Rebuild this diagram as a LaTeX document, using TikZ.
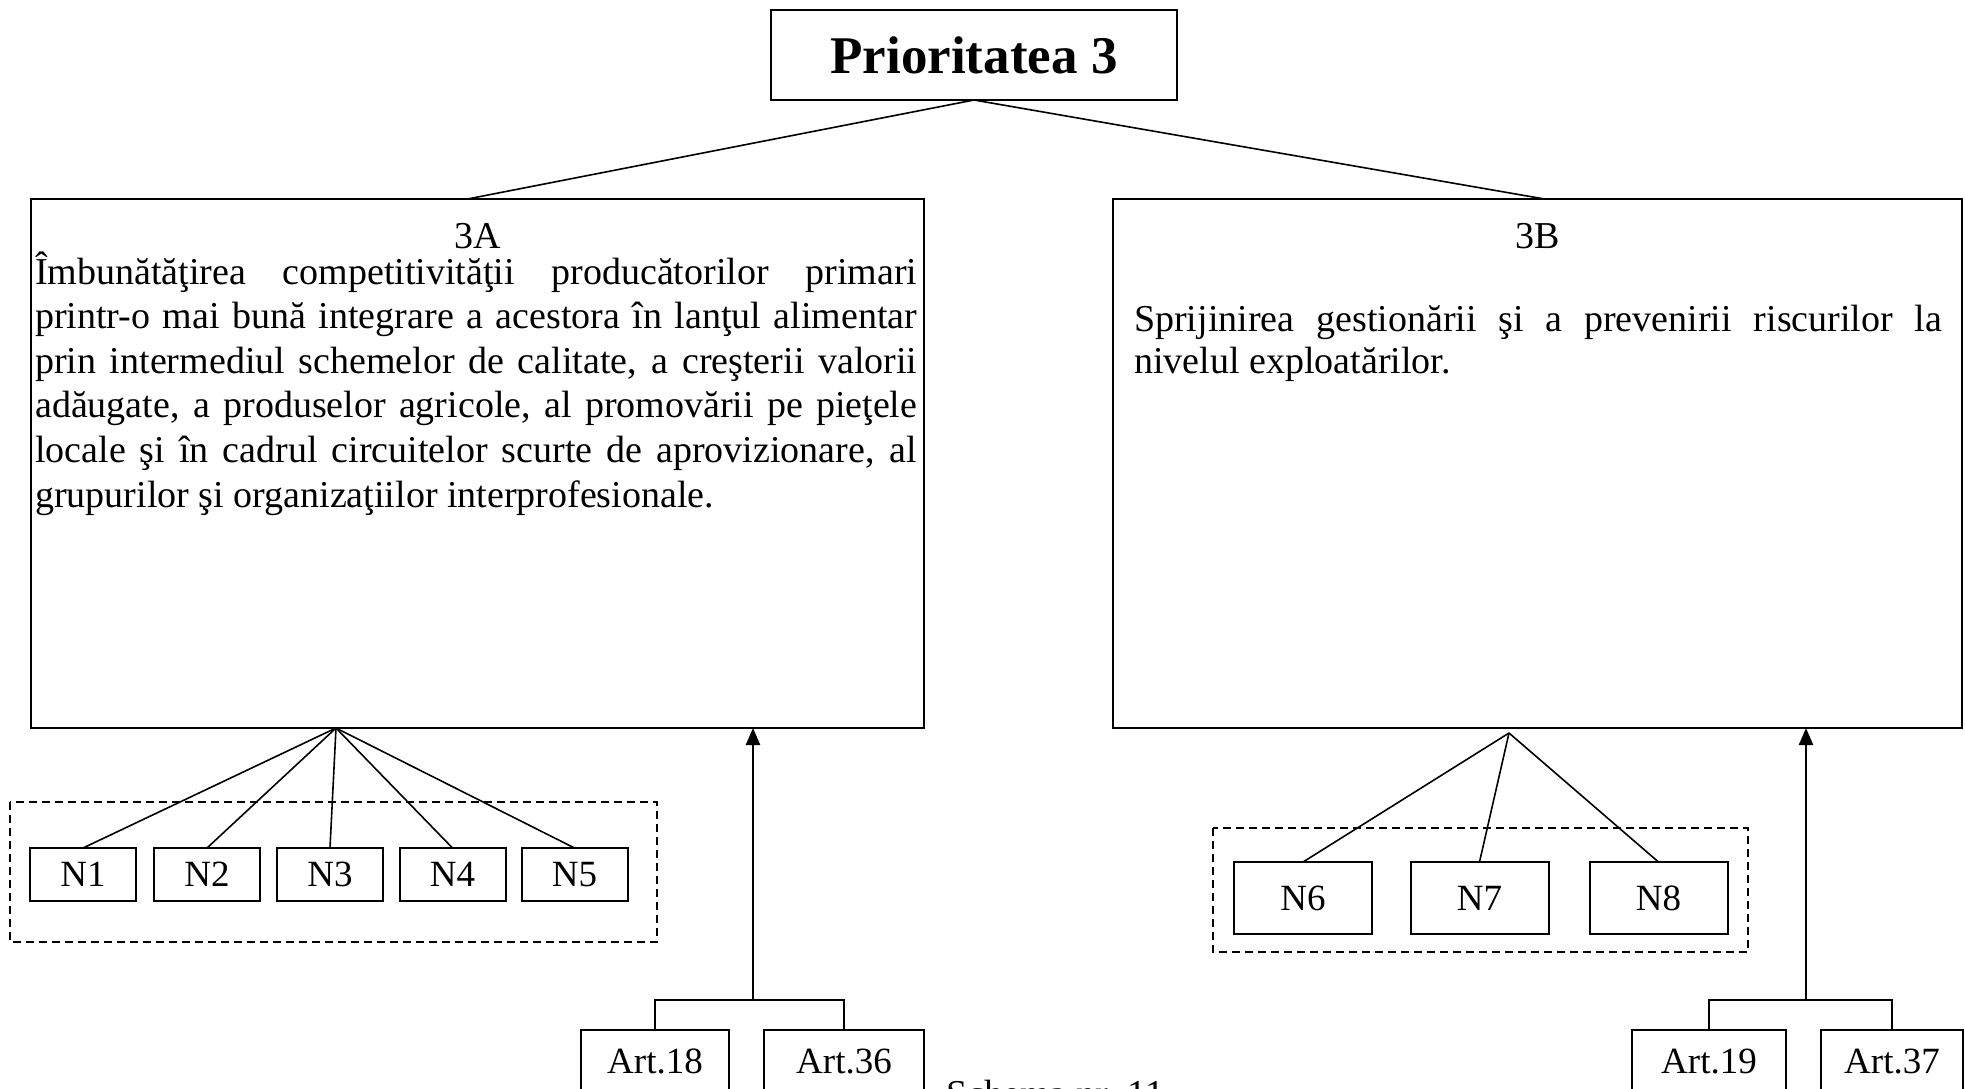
\documentclass[tikz,border=0pt]{standalone}
\usepackage{fontspec}
\setmainfont{Liberation Serif}
\usetikzlibrary{arrows.meta,calc}
\newcommand\bodyfnt{\fontsize{38}{44.6}\selectfont}
\newcommand\titlefnt{\fontsize{53}{60}\selectfont\bfseries}
\newcommand\labfnt{\fontsize{37}{42}\selectfont}
\tikzset{
  box/.style={draw, line width=2pt, inner sep=0pt, outer sep=0pt},
  bigbox/.style={box, anchor=north west},
  nbox/.style={box, minimum height=53pt, minimum width=106pt, font=\labfnt},
  nbbox/.style={box, minimum height=72pt, minimum width=138pt, font=\labfnt},
  artbox/.style={box, anchor=north, minimum height=62pt, font=\labfnt},
  grp/.style={draw, line width=1.6pt, dash pattern=on 8pt off 5pt},
  conn/.style={line width=1.6pt},
  upar/.style={line width=2.4pt, -{Triangle[length=17pt,width=14pt]}},
  line/.style={anchor=base west, inner sep=0pt, font=\bodyfnt},
  lbl/.style={inner sep=0pt, font=\bodyfnt}
}
\begin{document}
\begin{tikzpicture}[x=1pt,y=-1pt]
\useasboundingbox (0,0) rectangle (1965,1088);
\clip (0,0) rectangle (1965,1088);
\fill[white] (0,0) rectangle (1965,1088);

% title
\node[box, minimum width=406pt, minimum height=90pt, font=\titlefnt] (P) at (974,55) {Prioritatea 3};

% 3A box
\node[bigbox, minimum width=893pt, minimum height=529pt] (A) at (31,199) {};
\node[lbl] (Alab) at (477.5,236) {3A};
\node[line] (a1) at (35,284) {\makebox[882pt][s]{Îmbunătăţirea competitivităţii producătorilor primari}};
\node[line] (a2) at (35,328.6) {\makebox[882pt][s]{printr-o mai bună integrare a acestora în lanţul alimentar}};
\node[line] (a3) at (35,373.2) {\makebox[882pt][s]{prin intermediul schemelor de calitate, a creşterii valorii}};
\node[line] (a4) at (35,417.8) {\makebox[882pt][s]{adăugate, a produselor agricole, al promovării pe pieţele}};
\node[line] (a5) at (35,462.4) {\makebox[882pt][s]{locale şi în cadrul circuitelor scurte de aprovizionare, al}};
\node[line] (a6) at (35,507) {grupurilor şi organizaţiilor interprofesionale.};

% 3B box
\node[bigbox, minimum width=849pt, minimum height=529pt] (B) at (1113,199) {};
\node[lbl] (Blab) at (1537.5,236) {3B};
\node[line] (b1) at (1134,331) {\makebox[808pt][s]{Sprijinirea gestionării şi a prevenirii riscurilor la}};
\node[line] (b2) at (1134,373) {nivelul exploatărilor.};

\draw[conn] (P.south) -- ($(A.north)+(-10,0)$);
\draw[conn] (P.south) -- ($(B.north)+(7,0)$);

% N1-N5
\draw[grp] (10,802) rectangle (657,942);
\node[nbox] (N1) at (83,874.5) {N1};
\node[nbox] (N2) at (207,874.5) {N2};
\node[nbox] (N3) at (330,874.5) {N3};
\node[nbox] (N4) at (452.5,874.5) {N4};
\node[nbox] (N5) at (574.5,874.5) {N5};
\coordinate (fa) at (336,728);
\foreach \n in {N1,N2,N3,N4,N5} \draw[conn] (fa) -- (\n.north);

% N6-N8
\draw[grp] (1213,828) rectangle (1748,952);
\node[nbbox] (N6) at (1303,898) {N6};
\node[nbbox] (N7) at (1479.5,898) {N7};
\node[nbbox] (N8) at (1658.5,898) {N8};
\coordinate (fb) at (1509,733);
\foreach \n in {N6,N7,N8} \draw[conn] (fb) -- (\n.north);

% Articles under 3A
\node[artbox, minimum width=148pt] (Art18) at (655,1030) {Art.18};
\node[artbox, minimum width=160pt] (Art36) at (844,1030) {Art.36};
\coordinate (ja) at (753,1000);
\draw[upar] (ja) -- (ja |- A.south);
\draw[conn] (Art18.north) |- (ja) -| (Art36.north);

% Articles under 3B
\node[artbox, minimum width=154pt] (Art19) at (1709,1030) {Art.19};
\node[artbox, minimum width=142pt] (Art37) at (1892,1030) {Art.37};
\coordinate (jb) at (1806,1000);
\draw[upar] (jb) -- (jb |- B.south);
\draw[conn] (Art19.north) |- (jb) -| (Art37.north);

% caption (cut off at the bottom edge, as in the reference)
\node[line] (cap) at (946,1106) {Schema nr. 11};
\end{tikzpicture}
\end{document}
